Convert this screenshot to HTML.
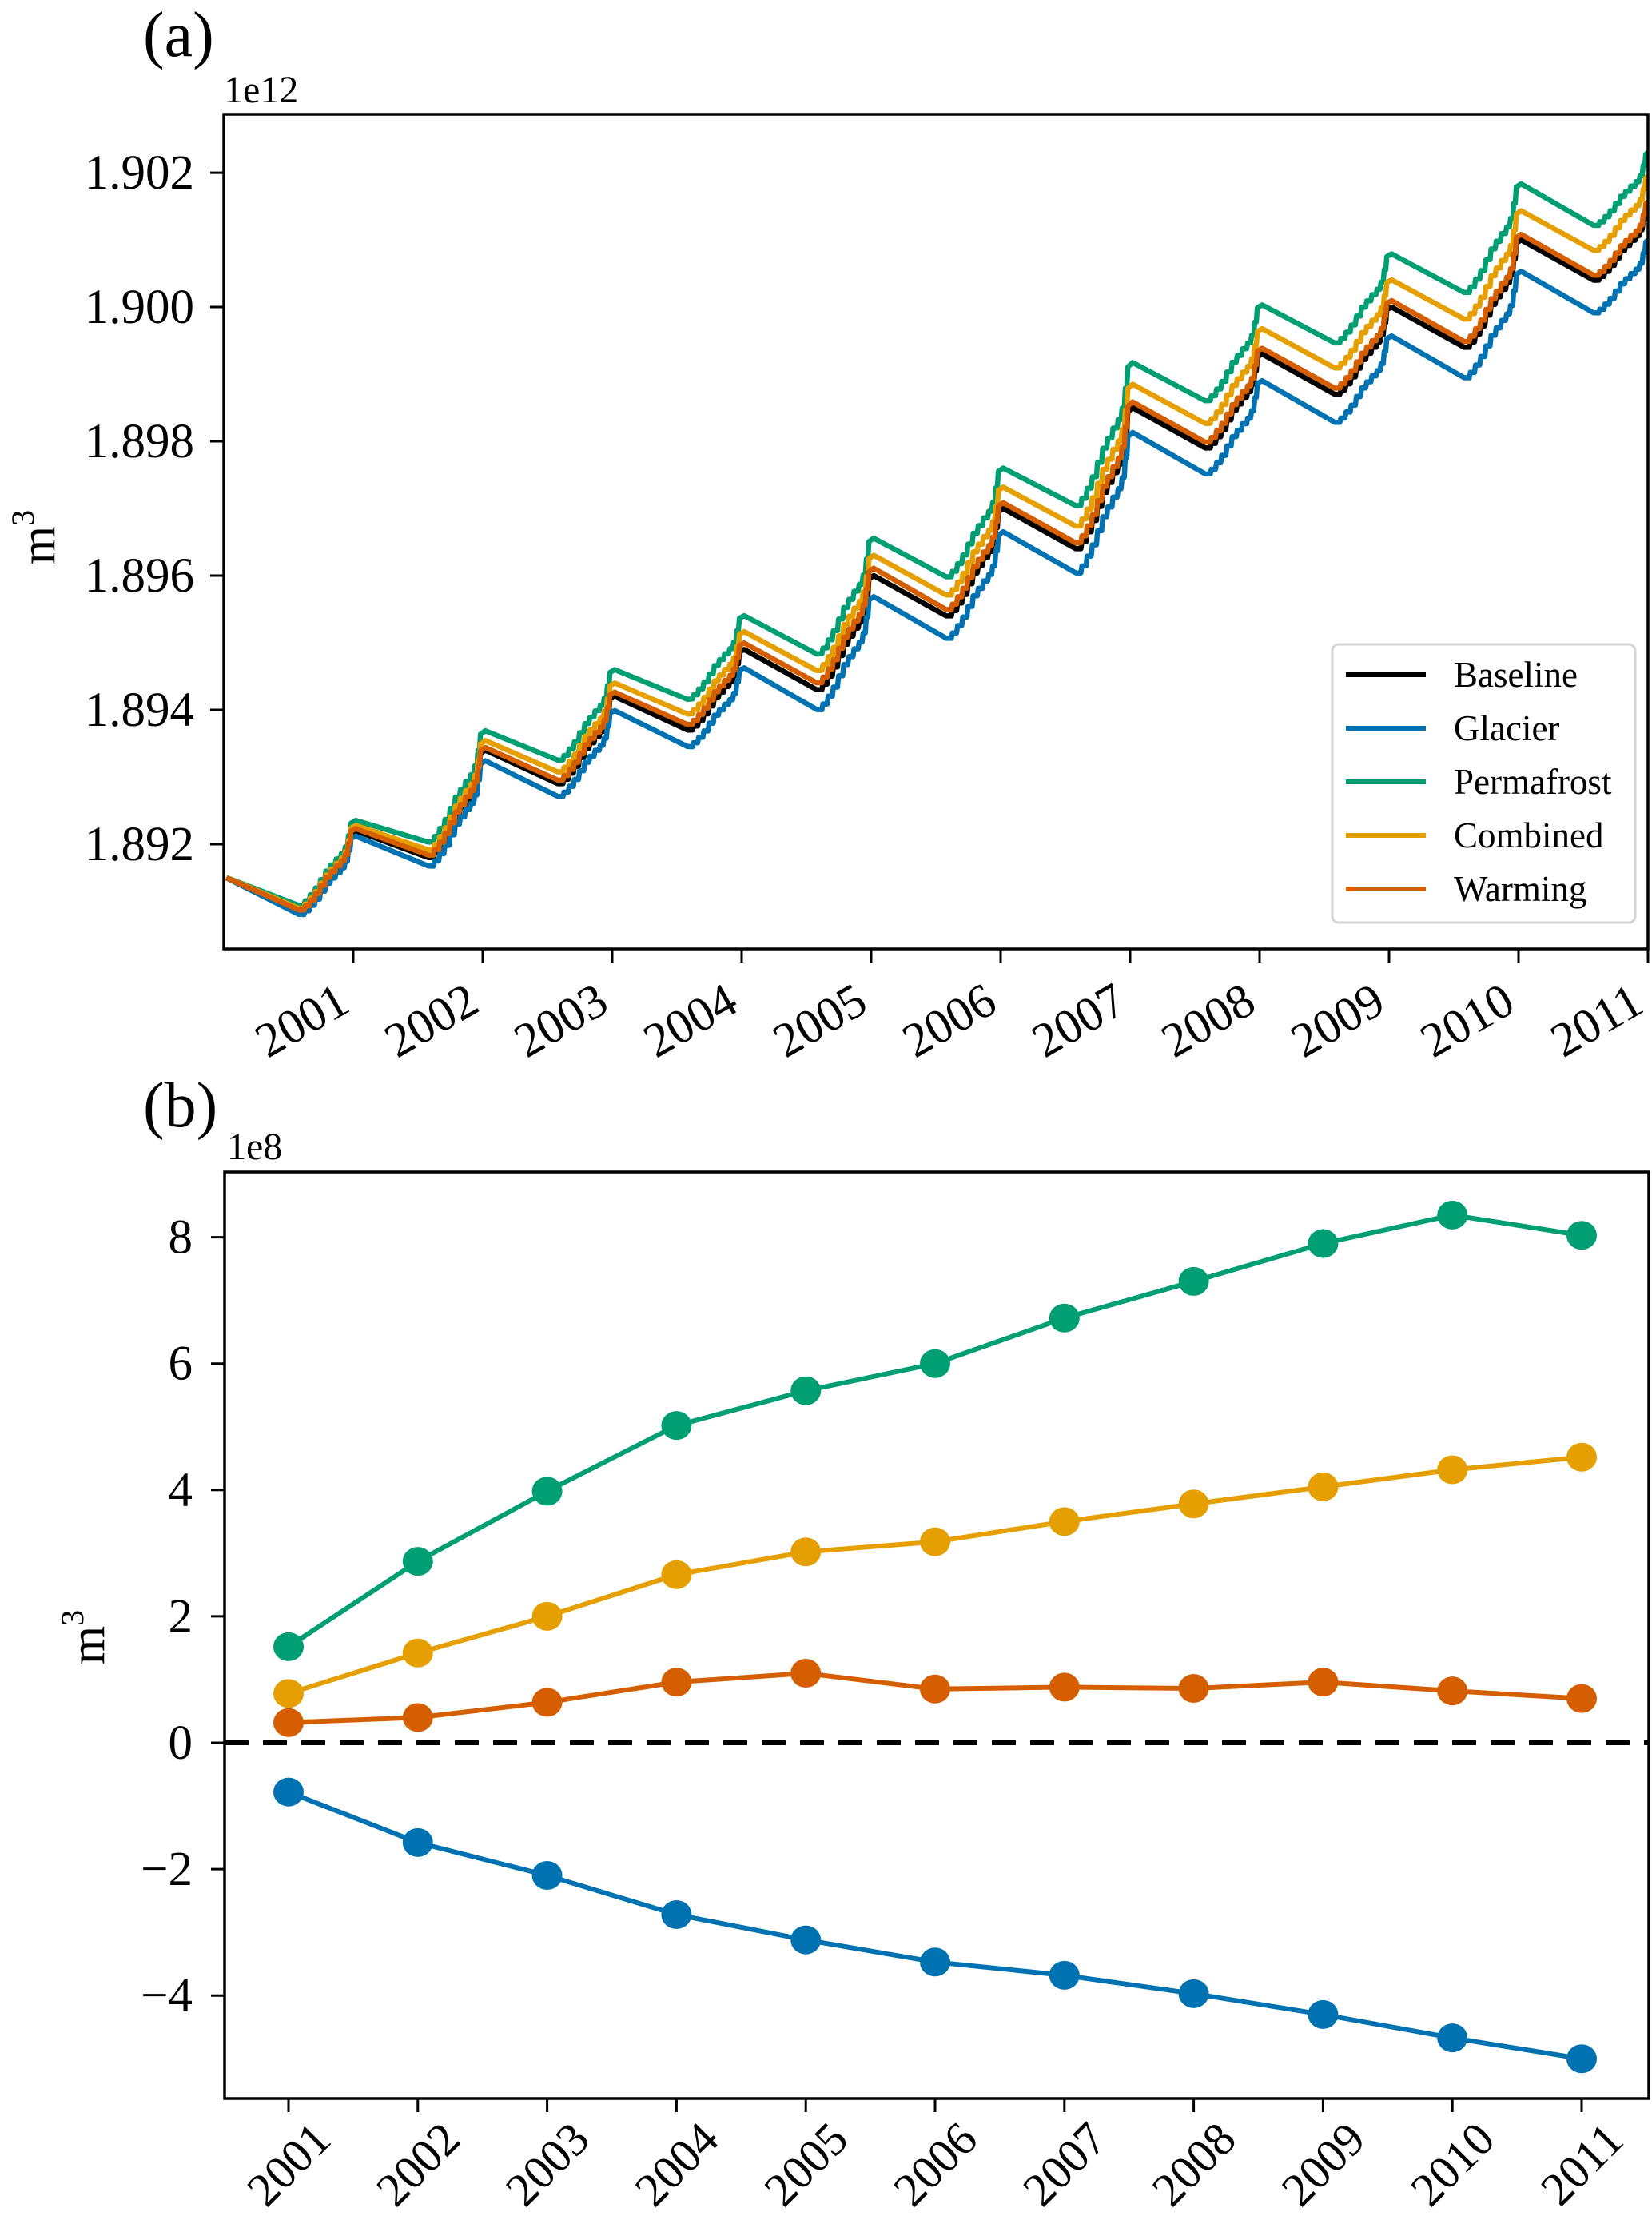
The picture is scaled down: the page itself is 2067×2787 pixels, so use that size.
<!DOCTYPE html>
<html><head><meta charset="utf-8"><style>
html,body{margin:0;padding:0;background:#fff}
svg{display:block;font-family:"Liberation Serif",serif}
</style></head><body>
<svg id="fig" width="2067" height="2787" viewBox="0 0 2067 2787" xmlns="http://www.w3.org/2000/svg">
<g id="pa"></g>
<g id="pb"></g>
</svg>
<script>
// ---------- Panel (a) data ----------
const aYears = [2000,2001,2002,2003,2004,2005,2006,2007,2008,2009,2010,2011];
// baseline storage (1e12 m3) at the start of each year (annual peak)
const basePeaks = [1.8915,1.8922,1.8934,1.8942,1.8949,1.8960,1.8970,1.8985,1.8993,1.9000,1.9010,1.9015];
// baseline mid-year minima (1e12 m3)
const baseTroughs = [1.8910,1.8918,1.8929,1.8937,1.8943,1.8954,1.8964,1.8979,1.8987,1.8994,1.9004];
const aTicks = [2001,2002,2003,2004,2005,2006,2007,2008,2009,2010,2011];
const aYTicks = [1.892,1.894,1.896,1.898,1.900,1.902];
// ---------- Panel (b) data (1e8 m3, difference from baseline) ----------
const bYears = [2001,2002,2003,2004,2005,2006,2007,2008,2009,2010,2011];
const glacier = [-0.78,-1.58,-2.10,-2.72,-3.12,-3.47,-3.68,-3.97,-4.30,-4.67,-5.00];
const permafrost = [1.52,2.87,3.98,5.02,5.57,6.00,6.72,7.30,7.90,8.35,8.03];
const combined = [0.78,1.42,2.00,2.66,3.02,3.18,3.50,3.78,4.05,4.32,4.52];
const warming = [0.32,0.40,0.64,0.96,1.10,0.85,0.88,0.86,0.96,0.82,0.70];
const bYTicks = [-4,-2,0,2,4,6,8];

const NS="http://www.w3.org/2000/svg";
function mk(tag, attrs, parent, text){const e=document.createElementNS(NS,tag);for(const k in attrs)e.setAttribute(k,attrs[k]);if(text!==undefined)e.textContent=text;parent.appendChild(e);return e;}
const C={base:"#000000",glacier:"#0072B2",perma:"#009E73",comb:"#E69F00",warm:"#D55E00"};

// ---------- Panel (a) ----------
const pa=document.getElementById('pa');
const A={l:280,r:2062,t:143,b:1187,x0:2000,x1:2011,y0:1.89044,y1:1.90287};
const ax=v=>A.l+(v-A.x0)/(A.x1-A.x0)*(A.r-A.l);
const ay=v=>A.b-(v-A.y0)/(A.y1-A.y0)*(A.b-A.t);
let t;
t=mk('text',{x:179,y:70,'font-size':80},pa,'(a)');


t=mk('text',{x:280,y:128,'font-size':48},pa,'1e12');


t=mk('text',{x:0,y:0,'font-size':62,'text-anchor':'middle',transform:'translate(68,672) rotate(-90)'},pa);


t.innerHTML='m<tspan dy="-26" font-size="40">3</tspan>';
aYTicks.forEach(v=>{const y=ay(v);
 let l=mk('line',{x1:263,x2:A.l,y1:y,y2:y,stroke:'#000','stroke-width':3},pa);
 
 
 let tx=mk('text',{x:243,y:y+20,'font-size':61,'text-anchor':'end'},pa,v.toFixed(3));
 
 });
aTicks.forEach(v=>{const x=ax(v);
 let l=mk('line',{x1:x,x2:x,y1:A.b,y2:A.b+17,stroke:'#000','stroke-width':3},pa);
 
 
 let tx=mk('text',{x:0,y:0,'font-size':61,'text-anchor':'middle','dominant-baseline':'central',transform:`translate(${x-64},${A.b+90}) rotate(-30)`},pa,String(v));
 
 });
// offset for scenario at time tt (interpolate year diffs; 0 at 2000)
function diffAt(arr,tt){const xs=[2000,...bYears],ys=[0,...arr];
 if(tt<=xs[0])return 0; for(let i=1;i<xs.length;i++){if(tt<=xs[i]){const f=(tt-xs[i-1])/(xs[i]-xs[i-1]);return ys[i-1]+f*(ys[i]-ys[i-1]);}} return ys[ys.length-1];}
function seriesPath(arr){
 const pts=[];
 for(let i=0;i<aYears.length-1;i++){
  const y=aYears[i],pk=basePeaks[i],tr=baseTroughs[i],nx=basePeaks[i+1];
  pts.push([y+0.02,pk]);
  pts.push([y+0.58,tr]);
  const steps=[[0.62,0.05],[0.66,0.12],[0.70,0.2],[0.74,0.3],[0.78,0.4],[0.82,0.47],[0.86,0.54],[0.90,0.6],[0.93,0.68],[0.955,0.82],[0.975,0.97]];
  let prev=tr;
  steps.forEach(([f,g])=>{const v=tr+g*(nx-tr);pts.push([y+f,prev]);pts.push([y+f+0.008,v]);prev=v;});
 }
 pts.push([2011,basePeaks[basePeaks.length-1]]);
 return pts.map((p,k)=>(k?'L':'M')+ax(p[0]).toFixed(1)+','+ay(p[1]+(arr?diffAt(arr,p[0])*1e-4:0)).toFixed(1)).join('');
}
mk('clipPath',{id:'clipA'},pa);
mk('rect',{x:A.l,y:A.t,width:A.r-A.l,height:A.b-A.t},document.getElementById('clipA'));
const sA=[['baseline',null,C.base],['glacier',glacier,C.glacier],['permafrost',permafrost,C.perma],['combined',combined,C.comb],['warming',warming,C.warm]];
const gA=mk('g',{'clip-path':'url(#clipA)'},pa);
sA.forEach(([n,arr,c])=>{let p=mk('path',{d:seriesPath(arr),fill:'none',stroke:c,'stroke-width':6.5,'stroke-linejoin':'round'},gA);
 
 });
let fr=mk('rect',{x:A.l,y:A.t,width:A.r-A.l,height:A.b-A.t,fill:'none',stroke:'#000','stroke-width':3.5},pa);


// legend
const lg=mk('g',{},pa);


mk('rect',{x:1667,y:806,width:379,height:348,rx:8,fill:'#fff','fill-opacity':0.85,stroke:'#d5d5d5','stroke-width':3},lg);
const lNames=['Baseline','Glacier','Permafrost','Combined','Warming'],lCols=[C.base,C.glacier,C.perma,C.comb,C.warm];
lNames.forEach((n,i)=>{const y=844+i*67;
 const e=mk('g',{},lg);
 
 
 mk('line',{x1:1684,x2:1784,y1:y,y2:y,stroke:lCols[i],'stroke-width':6},e);
 mk('text',{x:1819,y:y+15,'font-size':45},e,n);});

// ---------- Panel (b) ----------
const pb=document.getElementById('pb');
const B={l:281,r:2063,t:1466,b:2625};
const bx=v=>361+(v-2001)*161.8;
const by=v=>2180-v*79.05;
t=mk('text',{x:179,y:1409,'font-size':80},pb,'(b)');


t=mk('text',{x:284,y:1450,'font-size':48},pb,'1e8');


t=mk('text',{x:0,y:0,'font-size':62,'text-anchor':'middle',transform:'translate(130,2048) rotate(-90)'},pb);


t.innerHTML='m<tspan dy="-26" font-size="40">3</tspan>';
bYTicks.forEach(v=>{const y=by(v);
 let l=mk('line',{x1:264,x2:B.l,y1:y,y2:y,stroke:'#000','stroke-width':3},pb);
 
 
 let tx=mk('text',{x:241,y:y+20,'font-size':61,'text-anchor':'end'},pb,v<0?'\u2212'+Math.abs(v):String(v));
 
 });
bYears.forEach(v=>{const x=bx(v);
 let l=mk('line',{x1:x,x2:x,y1:B.b,y2:B.b+17,stroke:'#000','stroke-width':3},pb);
 
 
 let tx=mk('text',{x:0,y:0,'font-size':59,'text-anchor':'middle','dominant-baseline':'central',transform:`translate(${x},${B.b+82}) rotate(-45)`},pb,String(v));
 
 });
let zl=mk('line',{x1:B.l,x2:B.r,y1:by(0),y2:by(0),stroke:'#000','stroke-width':6,'stroke-dasharray':'30 18'},pb);


const sB=[['glacier',glacier,C.glacier],['permafrost',permafrost,C.perma],['combined',combined,C.comb],['warming',warming,C.warm]];
sB.forEach(([n,arr,c])=>{
 const g=mk('g',{},pb);
 
 
 mk('path',{d:arr.map((v,i)=>(i?'L':'M')+bx(bYears[i])+','+by(v)).join(''),fill:'none',stroke:c,'stroke-width':6},g);
 arr.forEach((v,i)=>{const m=mk('ellipse',{cx:bx(bYears[i]),cy:by(v),rx:19,ry:18,fill:c},g);
  
  });
});
fr=mk('rect',{x:B.l,y:B.t,width:B.r-B.l,height:B.b-B.t,fill:'none',stroke:'#000','stroke-width':3.5},pb);


</script>
</body></html>
